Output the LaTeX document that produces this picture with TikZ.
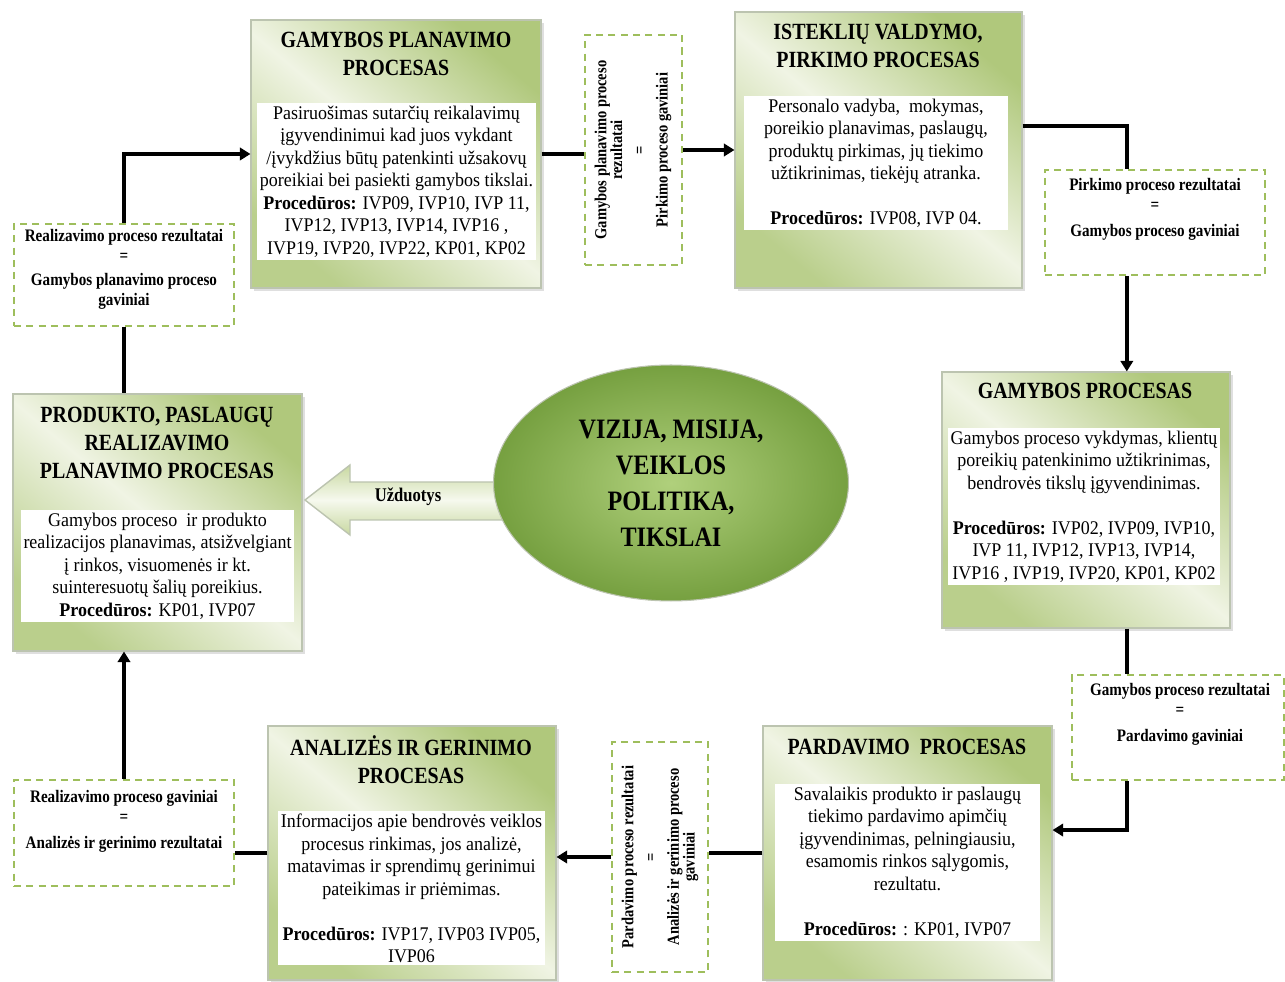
\documentclass[tikz,border=0pt]{standalone}
\usepackage{fontspec}
\setmainfont{Liberation Serif}[FakeStretch=0.86]
\newfontfamily\bodyfont{Liberation Serif}[FakeStretch=0.93]
\usetikzlibrary{fit,arrows.meta,shadows,calc,shapes.geometric}

\definecolor{boxdark}{RGB}{176,200,124}
\definecolor{boxlight}{RGB}{240,244,228}
\definecolor{dashgreen}{RGB}{158,190,92}
\definecolor{ovaldark}{RGB}{118,160,64}
\definecolor{ovallight}{RGB}{176,208,124}
\definecolor{edgegray}{RGB}{188,196,176}
\definecolor{arrowlight}{RGB}{246,249,238}
\definecolor{arrowdark}{RGB}{200,216,160}

\tikzset{
  procbox/.style={draw=edgegray, line width=0.6pt, inner sep=0pt,
    top color=boxdark, bottom color=boxdark!85!boxlight, middle color=boxlight, shading angle=-40,
    drop shadow={shadow xshift=1.5pt, shadow yshift=-1.5pt, opacity=0.25}},
  ptitle/.style={font=\fontsize{13.2}{15.8}\selectfont\bfseries, align=center, inner sep=0pt},
  pbody/.style={fill=white, align=center, font=\bodyfont\fontsize{11}{12.8}\selectfont, inner sep=1.5pt, anchor=north},
  resbox/.style={draw=dashgreen, line width=1.1pt, dash pattern=on 4pt off 3pt, inner sep=0pt},
  restext/.style={font=\fontsize{10}{11.5}\selectfont\bfseries, align=center, inner sep=0pt, anchor=north},
  vtext/.style={font=\fontsize{9.6}{9}\selectfont\bfseries, align=center, rotate=90, inner sep=0pt},
  flow/.style={line width=2.2pt, draw=black},
  flowarr/.style={flow, -{Triangle[length=6pt,width=7pt]}},
}

\begin{document}
\begin{tikzpicture}[x=0.02cm, y=-0.02cm]
\useasboundingbox (0,0) rectangle (1285,982);

% ---------- process boxes ----------
\node[procbox, fit={(251,20) (541,288)}] (gp) {};
\node[ptitle] at (396,54) {GAMYBOS PLANAVIMO\\PROCESAS};
\node[pbody, minimum width=5.34cm] (gpb) at (396.5,103) {Pasiruošimas sutarčių reikalavimų\\
  įgyvendinimui kad juos vykdant\\
  /įvykdžius būtų patenkinti užsakovų\\
  poreikiai bei pasiekti gamybos tikslai.\\
  \textbf{Procedūros:} IVP09, IVP10, IVP 11,\\
  IVP12, IVP13, IVP14, IVP16 ,\\
  IVP19, IVP20, IVP22, KP01, KP02};

\node[procbox, fit={(735,12) (1022,288)}] (ist) {};
\node[ptitle] at (878,46) {ISTEKLIŲ VALDYMO,\\PIRKIMO PROCESAS};
\node[pbody, minimum width=5.28cm] (istb) at (876,96) {Personalo vadyba,~ mokymas,\\
  poreikio planavimas, paslaugų,\\
  produktų pirkimas, jų tiekimo\\
  užtikrinimas, tiekėjų atranka.\\[12.8pt]
  \textbf{Procedūros:} IVP08, IVP 04.};

\node[procbox, fit={(942,372) (1230,628)}] (gps) {};
\node[ptitle] at (1085,391) {GAMYBOS PROCESAS};
\node[pbody, minimum width=5.24cm] (gpsb) at (1084,428) {Gamybos proceso vykdymas, klientų\\
  poreikių patenkinimo užtikrinimas,\\
  bendrovės tikslų įgyvendinimas.\\[12.8pt]
  \textbf{Procedūros:} IVP02, IVP09, IVP10,\\
  IVP 11, IVP12, IVP13, IVP14,\\
  IVP16 , IVP19, IVP20, KP01, KP02};

\node[procbox, fit={(763,726) (1052,980)}] (pard) {};
\node[ptitle] at (907,747) {PARDAVIMO~ PROCESAS};
\node[pbody, minimum width=5.3cm] (pardb) at (907.5,784) {Savalaikis produkto ir paslaugų\\
  tiekimo pardavimo apimčių\\
  įgyvendinimas, pelningiausiu,\\
  esamomis rinkos sąlygomis,\\
  rezultatu.\\[12.8pt]
  \textbf{Procedūros:} : KP01, IVP07};

\node[procbox, fit={(268,726) (556,980)}] (anal) {};
\node[ptitle] at (411,760) {ANALIZĖS IR GERINIMO\\PROCESAS};
\node[pbody, minimum width=5.26cm] (analb) at (411.5,811) {Informacijos apie bendrovės veiklos\\
  procesus rinkimas, jos analizė,\\
  matavimas ir sprendimų gerinimui\\
  pateikimas ir priėmimas.\\[12.8pt]
  \textbf{Procedūros:} IVP17, IVP03 IVP05,\\
  IVP06};

\node[procbox, fit={(13,394) (302,651)}] (prod) {};
\node[ptitle] at (157,443) {PRODUKTO, PASLAUGŲ\\REALIZAVIMO\\PLANAVIMO PROCESAS};
\node[pbody, minimum width=5.3cm] (prodb) at (157.5,510) {Gamybos proceso~ ir produkto\\
  realizacijos planavimas, atsižvelgiant\\
  į rinkos, visuomenės ir kt.\\
  suinteresuotų šalių poreikius.\\
  \textbf{Procedūros:} KP01, IVP07};

% ---------- result boxes ----------
\node[resbox, fit={(585,35) (682,265)}] (d1) {};
\node[vtext] at (633,150) {Gamybos planavimo proceso\\rezultatai\\[4pt]=\\[4pt]Pirkimo proceso gaviniai};

\node[resbox, fit={(1045,170) (1265,275)}] (d2) {};
\node[restext] at (1155,178) {Pirkimo proceso rezultatai\\=\\[3pt]Gamybos proceso gaviniai};

\node[resbox, fit={(1072,675) (1284,780)}] (d3) {};
\node[restext] at (1180,683) {Gamybos proceso rezultatai\\=\\[3pt]Pardavimo gaviniai};

\node[resbox, fit={(612,742) (708,972)}] (d4) {};
\node[vtext] at (660,857) {Pardavimo proceso rezultatai\\[4pt]=\\[4pt]Analizės ir gerinimo proceso\\gaviniai};

\node[resbox, fit={(14,780) (234,886)}] (d5) {};
\node[restext] at (124,790) {Realizavimo proceso gaviniai\\=\\[3pt]Analizės ir gerinimo rezultatai};

\node[resbox, fit={(14,224) (234,326)}] (d6) {};
\node[restext] at (124,229) {Realizavimo proceso rezultatai\\=\\[2pt]Gamybos planavimo proceso\\gaviniai};

% ---------- task arrow and centre oval ----------
\path[draw=edgegray, line width=0.8pt, top color=arrowdark, bottom color=arrowdark, middle color=arrowlight]
  (305,500) -- (350,465) -- (350,482) -- (520,482) -- (520,520) -- (350,520) -- (350,535) -- cycle;
\node[font=\fontsize{11}{13}\selectfont\bfseries, inner sep=0pt] (uzd) at (408,497) {Užduotys};

\node[ellipse, draw=edgegray, line width=0.6pt, inner color=ovallight, outer color=ovaldark,
  minimum width=7.1cm, minimum height=4.72cm, align=center, inner sep=0pt,
  font=\fontsize{16}{20.5}\selectfont\bfseries] (viz) at (671,483)
  {VIZIJA, MISIJA,\\VEIKLOS\\POLITIKA,\\TIKSLAI};

% ---------- connectors ----------
\coordinate (istout) at ($(ist.north east)!0.413!(ist.south east)$);
\coordinate (d2top) at ($(d2.north west)!0.373!(d2.north east)$);
\coordinate (d2bot) at ($(d2.south west)!0.373!(d2.south east)$);
\coordinate (pardin) at ($(pard.north east)!0.41!(pard.south east)$);

\draw[flowarr] (d6.north) |- (gp.west);
\draw[flow] (d6.south) -- (d6.south |- prod.north);
\draw[flow] (gp.east) -- (gp.east -| d1.west);
\draw[flowarr] (d1.east) -- (d1.east -| ist.west);
\draw[flow] (istout) -| (d2top);
\draw[flowarr] (d2bot) -- (d2bot |- gps.north);
\draw[flow] (d2bot |- gps.south) -- (d2bot |- d3.north);
\draw[flowarr] (d2bot |- d3.south) |- (pardin);
\draw[flow] (pard.west) -- (pard.west -| d4.east);
\draw[flowarr] (d4.west) -- (d4.west -| anal.east);
\draw[flow] (anal.west) -- (anal.west -| d5.east);
\draw[flowarr] (d5.north) -- (d5.north |- prod.south);
\end{tikzpicture}
\end{document}
